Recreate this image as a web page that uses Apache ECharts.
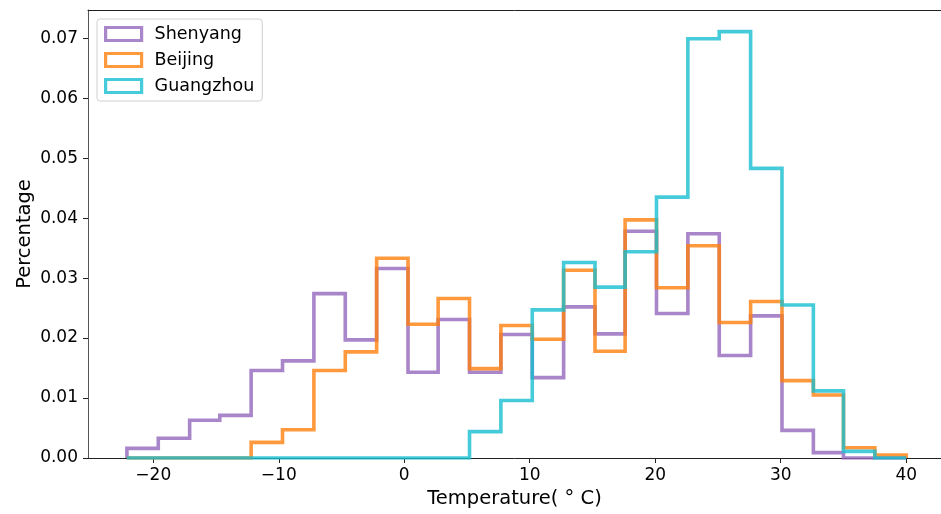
<!DOCTYPE html>
<html>
<head>
<meta charset="utf-8">
<script src="https://cdn.jsdelivr.net/npm/echarts@6/dist/echarts.min.js"></script>
<style>
  html, body { margin: 0; padding: 0; background: #fff; }
  #main { width: 941px; height: 514px; }
</style>
</head>
<body>
<div id="main"></div>
<script>
// bin edges shared by all three histograms (deg C)
var binEdges = [-22.1, -19.6, -17.1, -14.7, -12.2, -9.7, -7.2, -4.7, -2.2, 0.3,
  2.7, 5.2, 7.7, 10.2, 12.7, 15.2, 17.6, 20.1, 22.6, 25.1, 27.6, 30.1, 32.6, 35.0, 37.5, 40.0];

// one value per bin (25 bins)
var shenyang = [0.0016, 0.0033, 0.0063, 0.0071, 0.0146, 0.0162, 0.0274, 0.0197, 0.0316, 0.0143,
  0.0231, 0.0143, 0.0206, 0.0134, 0.0252, 0.0207, 0.0378, 0.0241, 0.0374, 0.0171,
  0.0237, 0.0046, 0.0009, 0, 0];
var beijing = [0, 0, 0, 0, 0.0026, 0.0047, 0.0146, 0.0177, 0.0333, 0.0223,
  0.0266, 0.0149, 0.0221, 0.0198, 0.0313, 0.0178, 0.0397, 0.0284, 0.0354, 0.0226,
  0.0261, 0.0129, 0.0105, 0.0017, 0.0005];
var guangzhou = [0, 0, 0, 0, 0, 0, 0, 0, 0, 0,
  0, 0.0044, 0.0096, 0.0247, 0.0326, 0.0285, 0.0344, 0.0435, 0.0699, 0.0711,
  0.0483, 0.0255, 0.0112, 0.0011, 0];

var cities = ['Shenyang', 'Beijing', 'Guangzhou'];
var colors = ['rgba(148,103,189,0.8)', 'rgba(255,127,14,0.8)', 'rgba(23,190,207,0.8)'];
var xTicks = [-20, -10, 0, 10, 20, 30, 40];

var FONT = 'DejaVu Sans';

// outline of a step histogram: start at baseline, then one point per bin
function stepData(vals) {
  var pts = [[binEdges[0], 0]];
  vals.forEach(function (v, i) {
    pts.push([binEdges[i], v]);
  });
  pts.push([binEdges[binEdges.length - 1], 0]);
  return pts;
}

var chart = echarts.init(document.getElementById('main'), null, { renderer: 'canvas' });

var seriesVals = [shenyang, beijing, guangzhou];
var series = cities.map(function (name, i) {
  return {
    name: name,
    type: 'line',
    step: 'end',
    showSymbol: false,
    silent: true,
    animation: false,
    data: stepData(seriesVals[i]),
    lineStyle: { color: colors[i], width: 3.6, cap: 'butt', join: 'miter' },
    itemStyle: { color: colors[i] }
  };
});

var option = {
  animation: false,
  grid: {
    left: 88,
    top: 10,
    bottom: 56,
    right: 0
  },
  legend: {
    orient: 'vertical',
    left: 97,
    top: 19,
    padding: [6, 8, 6, 7],
    itemWidth: 36,
    itemHeight: 13,
    itemGap: 8,
    borderColor: '#d0d0d0',
    borderWidth: 1,
    borderRadius: 3,
    backgroundColor: 'rgba(255,255,255,0.8)',
    textStyle: { fontFamily: FONT, fontSize: 17.5, color: '#000', lineHeight: 18, padding: [0, 0, 0, 8] },
    data: cities.map(function (name, i) {
      return {
        name: name,
        icon: 'rect',
        itemStyle: { color: '#fff', borderColor: colors[i], borderWidth: 3.2 }
      };
    })
  },
  xAxis: [{
    type: 'value',
    min: -25.2,
    max: 42.77,
    name: 'Temperature( \u00b0 C)',
    nameLocation: 'middle',
    nameGap: 31,
    nameMoveOverlap: false,
    nameTextStyle: { fontFamily: FONT, fontSize: 19.5, color: '#000' },
    splitLine: { show: false },
    axisLine: { show: true, onZero: false, lineStyle: { color: '#222', width: 1 } },
    axisTick: { show: true, length: 5, customValues: xTicks, lineStyle: { color: '#222' } },
    axisLabel: {
      customValues: xTicks,
      margin: 9,
      fontFamily: FONT,
      fontSize: 17,
      color: '#000',
      formatter: function (v) { return String(v).replace('-', '\u2212'); }
    }
  }, {
    // top spine only
    type: 'value',
    position: 'top',
    min: -25.2,
    max: 42.77,
    axisLine: { show: true, onZero: false, lineStyle: { color: '#222', width: 1 } },
    axisTick: { show: false },
    axisLabel: { show: false },
    splitLine: { show: false }
  }],
  yAxis: {
    type: 'value',
    min: 0,
    max: 0.0747,
    interval: 0.01,
    name: 'Percentage',
    nameLocation: 'middle',
    nameGap: 53,
    nameMoveOverlap: false,
    nameTextStyle: { fontFamily: FONT, fontSize: 19.5, color: '#000' },
    splitLine: { show: false },
    axisLine: { show: true, onZero: false, lineStyle: { color: '#555', width: 1 } },
    axisTick: { show: true, length: 5, lineStyle: { color: '#222' } },
    axisLabel: {
      margin: 10,
      fontFamily: FONT,
      fontSize: 17,
      color: '#000',
      showMaxLabel: false,
      formatter: function (v) { return v.toFixed(2); }
    }
  },
  series: series
};

chart.setOption(option);
</script>
</body>
</html>
